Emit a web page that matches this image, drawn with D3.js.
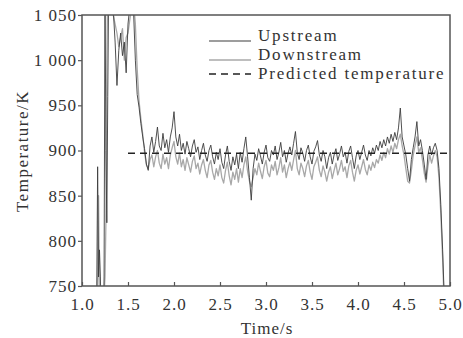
<!DOCTYPE html>
<html>
<head>
<meta charset="utf-8">
<script src="https://cdn.jsdelivr.net/npm/d3@7"></script>
<style>
  html, body { margin: 0; padding: 0; background: #fff; }
  svg { display: block; }
  text { font-family: "Liberation Serif", "DejaVu Serif", serif; fill: #333; }
</style>
</head>
<body>
<svg id="chart" width="463" height="338"></svg>
<script>
// ---------- DATA ----------
const xTicks = [1.0, 1.5, 2.0, 2.5, 3.0, 3.5, 4.0, 4.5, 5.0];
const yTicks = [750, 800, 850, 900, 950, 1000, 1050];
const seriesNames = ["Upstream", "Downstream", "Predicted temperature"];
const predictedTemp = 897;
const predictedRange = [1.5, 5.0];

// sample times: irregular start-up part, then every 0.02 s from 1.30 s
const timeEarly = [1.00, 1.05, 1.10, 1.14, 1.16, 1.17, 1.18, 1.19, 1.20, 1.21, 1.23, 1.24, 1.25, 1.26, 1.27, 1.28, 1.29];
const timeStart = 1.30, timeStep = 0.02;

const upstreamEarly = [700, 700, 700, 700, 740, 882, 760, 790, 760, 700, 700, 760, 1080, 900, 820, 960, 1080];
const downstreamEarly = [700, 700, 700, 700, 720, 760, 850, 720, 700, 700, 700, 740, 760, 820, 1000, 1080, 1060];

const upstream = [
  1070, 1065, 1055, 1020, 972, 1011, 1030, 1005, 1020, 986,      // 1.30-1.48
  1040, 1060, 1070, 1055, 1000, 962, 948, 930, 915, 902,          // 1.50-1.68
  885, 878, 905, 915, 898, 910, 926, 905, 900, 919,               // 1.70-1.88
  903, 912, 898, 915, 925, 943, 915, 905, 918, 900,               // 1.90-2.08
  908, 896, 910, 902, 893, 905, 912, 898, 904, 890,               // 2.10-2.28
  900, 908, 895, 888, 900, 906, 893, 885, 898, 890,               // 2.30-2.48
  902, 887, 880, 895, 905, 888, 878, 893, 884, 896,               // 2.50-2.68
  880, 898, 887, 902, 915, 893, 870, 845, 880, 896,               // 2.70-2.88
  889, 902, 894, 885, 898, 906, 892, 888, 900, 895,               // 2.90-3.08
  905, 890, 898, 909, 893, 900, 887, 897, 904, 895,               // 3.10-3.28
  908, 921, 898, 890, 903, 897, 888, 900, 906, 893,               // 3.30-3.48
  885, 899, 904, 911, 895, 888, 900, 893, 880, 892,               // 3.50-3.68
  898, 885, 895, 902, 889, 896, 905, 893, 898, 886,               // 3.70-3.88
  899, 905, 892, 880, 894, 900, 890, 898, 906, 895,               // 3.90-4.08
  889, 900, 894, 903, 897, 906, 900, 910, 903, 912,               // 4.10-4.28
  905, 915, 908, 918, 910, 920, 912, 925, 947, 915,               // 4.30-4.48
  905, 895, 880, 866, 890, 903, 915, 932, 905, 912,               // 4.50-4.68
  900, 885, 868, 895, 905, 895, 903, 908, 900, 880,               // 4.70-4.88
  840, 790, 730, 700, 700, 700                                    // 4.90-5.00
];

const downstream = [
  1070, 1060, 1050, 1040, 1030, 1015, 1025, 1035, 1000, 1025,     // 1.30-1.48
  1030, 1045, 1060, 1065, 1040, 990, 955, 935, 918, 898,          // 1.50-1.68
  884, 880, 890, 895, 882, 893, 900, 886, 880, 896,               // 1.70-1.88
  885, 892, 880, 895, 903, 910, 893, 885, 897, 882,               // 1.90-2.08
  890, 878, 892, 884, 876, 888, 894, 880, 886, 874,               // 2.10-2.28
  884, 890, 878, 870, 884, 889, 876, 868, 880, 872,               // 2.30-2.48
  884, 870, 864, 878, 887, 872, 862, 876, 868, 880,               // 2.50-2.68
  865, 880, 870, 884, 893, 877, 866, 860, 870, 880,               // 2.70-2.88
  873, 886, 877, 869, 882, 889, 875, 871, 884, 878,               // 2.90-3.08
  888, 873, 881, 892, 876, 884, 870, 880, 887, 878,               // 3.10-3.28
  890, 900, 880, 873, 886, 880, 871, 883, 889, 876,               // 3.30-3.48
  868, 882, 887, 893, 878, 871, 883, 876, 866, 876,               // 3.50-3.68
  882, 869, 878, 886, 873, 880, 889, 877, 882, 870,               // 3.70-3.88
  883, 889, 876, 866, 878, 884, 874, 882, 890, 879,               // 3.90-4.08
  873, 884, 878, 887, 881, 890, 886, 895, 889, 898,               // 4.10-4.28
  892, 902, 896, 905, 898, 908, 902, 912, 918, 905,               // 4.30-4.48
  895, 880, 866, 864, 878, 895, 905, 915, 898, 903,               // 4.50-4.68
  890, 875, 865, 882, 895, 886, 894, 900, 893, 870,               // 4.70-4.88
  830, 780, 720, 700, 700, 700                                    // 4.90-5.00
];

// ---------- BUILD ----------
function build(early, regular) {
  const pts = early.map((v, i) => ({ t: timeEarly[i], v }));
  regular.forEach((v, i) => pts.push({ t: +(timeStart + i * timeStep).toFixed(2), v }));
  return pts;
}
const upData = build(upstreamEarly, upstream);
const downData = build(downstreamEarly, downstream);

const svg = d3.select("#chart");
const margin = { left: 82, top: 15, right: 13, bottom: 52 };
const W = 463, H = 338;
const x = d3.scaleLinear().domain([1.0, 5.0]).range([margin.left, W - margin.right]);
const y = d3.scaleLinear().domain([750, 1050]).range([H - margin.bottom, margin.top]);

svg.append("defs").append("clipPath").attr("id", "clip")
  .append("rect")
  .attr("x", x(1.0)).attr("y", y(1050))
  .attr("width", x(5.0) - x(1.0)).attr("height", y(750) - y(1050));

const line = d3.line().x(d => x(d.t)).y(d => y(d.v));
const g = svg.append("g").attr("clip-path", "url(#clip)");

g.append("path").datum(downData)
  .attr("d", line).attr("fill", "none")
  .attr("stroke", "#a8a8a8").attr("stroke-width", 1.3).attr("stroke-linejoin", "round");
g.append("path").datum(upData)
  .attr("d", line).attr("fill", "none")
  .attr("stroke", "#3c3c3c").attr("stroke-width", 0.9).attr("stroke-linejoin", "round");

svg.append("line")
  .attr("x1", x(predictedRange[0])).attr("x2", x(predictedRange[1]))
  .attr("y1", y(predictedTemp)).attr("y2", y(predictedTemp))
  .attr("stroke", "#222").attr("stroke-width", 1.4).attr("stroke-dasharray", "7,5");

// ---------- AXES ----------
const fmtY = v => v >= 1000 ? String(v).replace(/^(\d)(\d{3})$/, "$1 $2") : String(v);
const axisColor = "#555";

const xAxis = svg.append("g").attr("transform", `translate(0,${y(750)})`)
  .call(d3.axisBottom(x).tickValues(xTicks).tickFormat(d3.format(".1f")).tickSizeInner(-4).tickSizeOuter(0).tickPadding(12));
const yAxis = svg.append("g").attr("transform", `translate(${x(1.0)},0)`)
  .call(d3.axisLeft(y).tickValues(yTicks).tickFormat(fmtY).tickSizeInner(4).tickSizeOuter(0).tickPadding(1));

[xAxis, yAxis].forEach(a => {
  a.select(".domain").remove();
  a.selectAll(".tick line").attr("stroke", axisColor).attr("stroke-width", 1.2);
  a.selectAll(".tick text").attr("fill", "#333").style("font-size", "17px")
    .style("letter-spacing", "1px").style("font-family", '"Liberation Serif", serif');
});

// frame
svg.append("rect")
  .attr("x", x(1.0)).attr("y", y(1050))
  .attr("width", x(5.0) - x(1.0)).attr("height", y(750) - y(1050))
  .attr("fill", "none").attr("stroke", axisColor).attr("stroke-width", 1.5);

// axis titles
svg.append("text")
  .attr("x", (x(1.0) + x(5.0)) / 2 + 1).attr("y", 334)
  .attr("text-anchor", "middle").style("font-size", "17px").style("letter-spacing", "1px")
  .text("Time/s");
svg.append("text")
  .attr("transform", `translate(28,151) rotate(-90)`)
  .attr("text-anchor", "middle").style("font-size", "17px").style("letter-spacing", "1.5px")
  .text("Temperature/K");

// ---------- LEGEND ----------
const legendItems = [
  { name: seriesNames[0], color: "#3c3c3c", width: 1.2, dash: null, ly: 41, ty: 41 },
  { name: seriesNames[1], color: "#a8a8a8", width: 1.5, dash: null, ly: 60, ty: 60 },
  { name: seriesNames[2], color: "#222", width: 1.5, dash: "7,5", ly: 74, ty: 79 }
];
const lg = svg.append("g");
legendItems.forEach(it => {
  lg.append("line").attr("x1", 209).attr("x2", 251).attr("y1", it.ly).attr("y2", it.ly)
    .attr("stroke", it.color).attr("stroke-width", it.width)
    .attr("stroke-dasharray", it.dash);
  lg.append("text").attr("x", 258).attr("y", it.ty)
    .style("font-size", "17px").style("letter-spacing", "1.8px").text(it.name);
});
</script>
</body>
</html>
